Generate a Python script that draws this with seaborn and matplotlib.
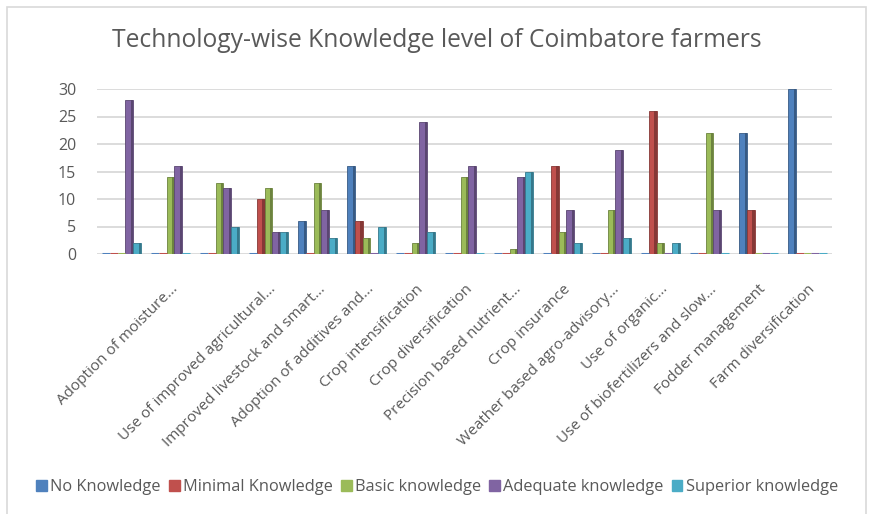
import pandas as pd
import matplotlib.pyplot as plt
import seaborn as sns

sns.set_theme(style="white")
plt.rcParams["font.family"] = ["Open Sans", "DejaVu Sans"]

# Data (two group labels are hidden in the original)
technologies = ["", "Adoption of moisture...", "", "Use of improved agricultural...",
                "Improved livestock and smart...", "Adoption of additives and...",
                "Crop intensification", "Crop diversification", "Precision based nutrient...",
                "Crop insurance", "Weather based agro-advisory...", "Use of organic...",
                "Use of biofertilizers and slow...", "Fodder management", "Farm diversification"]
levels = ["No Knowledge", "Minimal Knowledge", "Basic knowledge",
          "Adequate knowledge", "Superior knowledge"]

no_knowledge = [0, 0, 0, 0, 6, 16, 0, 0, 0, 0, 0, 0, 0, 22, 30]
minimal_knowledge = [0, 0, 0, 10, 0, 6, 0, 0, 0, 16, 0, 26, 0, 8, 0]
basic_knowledge = [0, 14, 13, 12, 13, 3, 2, 14, 1, 4, 8, 2, 22, 0, 0]
adequate_knowledge = [28, 16, 12, 4, 8, 0, 24, 16, 14, 8, 19, 0, 8, 0, 0]
superior_knowledge = [2, 0, 5, 4, 3, 5, 4, 0, 15, 2, 3, 2, 0, 0, 0]

colors = ["#4F81BD", "#C0504D", "#9BBB59", "#8064A2", "#4BACC6"]

series = [no_knowledge, minimal_knowledge, basic_knowledge, adequate_knowledge, superior_knowledge]
rows = []
for lvl, vals in zip(levels, series):
    for i, v in enumerate(vals):
        rows.append({"group": i, "level": lvl, "count": v})
df = pd.DataFrame(rows)

fig = plt.figure(figsize=(8.74, 5.14), dpi=100)
ax = fig.add_axes([97 / 874, 1 - 254 / 514, (832 - 97) / 874, (254 - 89) / 514])

sns.barplot(data=df, x="group", y="count", hue="level", hue_order=levels,
            palette=colors, width=0.8, ax=ax, legend=False, saturation=1)

# fake 3D look: darker right side on every bar, zero bars shown as a thin floor line
for p in list(ax.patches):
    fc = p.get_facecolor()
    dark = tuple(c * 0.7 for c in fc[:3]) + (1,)
    w = p.get_width()
    if p.get_height() == 0:
        p.set_edgecolor(fc)
        p.set_linewidth(2.2)
        p.set_zorder(3)
        continue
    p.set_edgecolor(dark)
    p.set_linewidth(0.6)
    side = plt.Rectangle((p.get_x() + w * 0.72, p.get_y()), w * 0.28, p.get_height(),
                         facecolor=dark, edgecolor="none", zorder=p.get_zorder() + 0.1)
    ax.add_patch(side)

ax.set_ylim(0, 30)
ax.set_xlim(-0.5, len(technologies) - 0.5)
ax.set_yticks(range(0, 31, 5))
ax.yaxis.grid(True, color="#D9D9D9", linewidth=1.3)
ax.set_axisbelow(True)
for s in ax.spines.values():
    s.set_visible(False)
ax.set_xlabel("")
ax.set_ylabel("")
ax.tick_params(axis="y", length=0, pad=15, labelsize=11.5, labelcolor="#595959")
ax.tick_params(axis="x", length=0, pad=20, labelsize=11, labelcolor="#595959")
ax.set_xticks(range(len(technologies)))
ax.set_xticklabels(technologies, rotation=45, ha="right", rotation_mode="anchor")

fig.text(0.5, 1 - 41 / 514, "Technology-wise Knowledge level of Coimbatore farmers",
         ha="center", va="center", fontsize=17.7, color="#595959")

handles = [plt.Rectangle((0, 0), 1, 1, color=c) for c in colors]
fig.legend(handles, levels, loc="center", bbox_to_anchor=(0.5, 1 - 487 / 514), ncol=5,
           frameon=False, fontsize=11.8, handlelength=0.65, handleheight=0.65,
           handletextpad=0.2, columnspacing=0.5, labelcolor="#595959")

# chart area border
border = plt.Rectangle((7 / 874, -0.05), (866 - 7) / 874, 1.05 - 7 / 514, transform=fig.transFigure,
                       fill=False, edgecolor="#D9D9D9", linewidth=1.2)
fig.patches.append(border)

fig.savefig("out.png", dpi=100)
